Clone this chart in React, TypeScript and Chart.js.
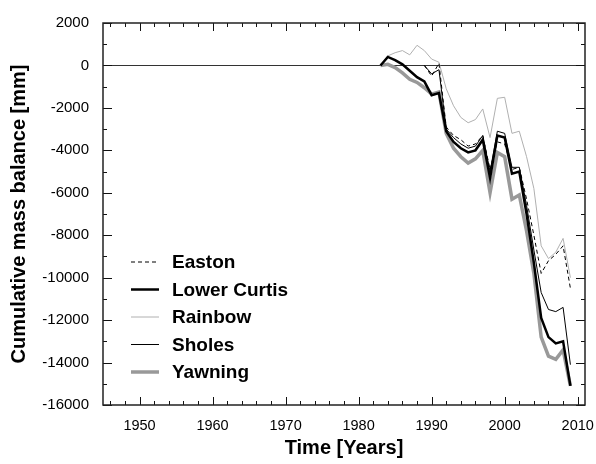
import { useEffect, useRef } from 'react';
import { Chart, registerables } from 'chart.js';

Chart.register(...registerables);

const years = [1983, 1984, 1985, 1986, 1987, 1988, 1989, 1990, 1991, 1992, 1993, 1994, 1995, 1996, 1997, 1998, 1999, 2000, 2001, 2002, 2003, 2004, 2005, 2006, 2007, 2008, 2009];

const easton = [null, null, null, null, null, null, 0, -500, 100, -2900, -3300, -3500, -3800, -3700, -3300, -4900, -3600, -3700, -4900, -4800, -6300, -8000, -9800, -9200, -8900, -8500, -10500];
const lowerCurtis = [0, 400, 250, 50, -250, -550, -750, -1400, -1300, -3100, -3600, -3900, -4100, -4000, -3500, -5300, -3300, -3400, -5100, -5000, -7000, -9300, -11900, -12800, -13100, -13000, -15100];
const rainbow = [0, 450, 600, 700, 500, 950, 700, 300, 150, -1100, -1900, -2450, -2700, -2550, -2050, -3400, -1550, -1500, -3200, -3100, -4300, -5800, -8500, -9100, -8800, -8150, -10000];
const sholes = [null, null, null, null, null, null, 0, -400, -200, -3000, -3400, -3700, -3900, -3800, -3300, -5000, -3100, -3200, -4800, -4800, -6600, -8700, -10700, -11500, -11600, -11400, -14100];
const yawning = [0, 50, -100, -350, -650, -800, -1050, -1350, -1250, -3200, -3900, -4300, -4600, -4400, -4000, -6000, -4100, -4300, -6300, -6100, -7800, -9800, -12800, -13700, -13850, -13400, -15100];

const xTickLabels = [1950, 1960, 1970, 1980, 1990, 2000, 2010];
const yTickLabels = [2000, 0, -2000, -4000, -6000, -8000, -10000, -12000, -14000, -16000];

const FONT = "'Liberation Sans', Arial, sans-serif";

function toPoints(values: (number | null)[]) {
  const pts: { x: number; y: number }[] = [];
  values.forEach((v, i) => {
    if (v !== null) pts.push({ x: years[i], y: v });
  });
  return pts;
}

const framePlugin = {
  id: 'frame',
  beforeDatasetsDraw(chart: any) {
    const { ctx, chartArea: a, scales } = chart;
    const ys = scales.y;
    ctx.save();
    ctx.strokeStyle = '#333';
    ctx.lineWidth = 1;
    const y0 = Math.round(ys.getPixelForValue(0)) + 0.5;
    ctx.beginPath();
    ctx.moveTo(a.left, y0);
    ctx.lineTo(a.right, y0);
    ctx.stroke();
    ctx.restore();
  },
  afterDraw(chart: any) {
    const { ctx, chartArea: a, scales } = chart;
    const xs = scales.x;
    const ys = scales.y;
    ctx.save();
    ctx.setLineDash([]);
    ctx.strokeStyle = '#111';
    ctx.lineWidth = 1;
    for (let yr = 1946; yr <= 2010; yr += 2) {
      const px = Math.round(xs.getPixelForValue(yr)) + 0.5;
      const len = yr % 10 === 0 ? 8 : 4;
      ctx.beginPath();
      ctx.moveTo(px, a.bottom);
      ctx.lineTo(px, a.bottom - len);
      ctx.moveTo(px, a.top);
      ctx.lineTo(px, a.top + len);
      ctx.stroke();
    }
    for (let v = -16000; v <= 2000; v += 1000) {
      const py = Math.round(ys.getPixelForValue(v)) + 0.5;
      const len = v % 2000 === 0 ? 9 : 4;
      ctx.beginPath();
      ctx.moveTo(a.left, py);
      ctx.lineTo(a.left + len, py);
      ctx.moveTo(a.right, py);
      ctx.lineTo(a.right - len, py);
      ctx.stroke();
    }
    ctx.strokeStyle = '#222';
    ctx.lineWidth = 1.5;
    ctx.beginPath();
    ctx.rect(a.left, a.top, a.right - a.left, a.bottom - a.top);
    ctx.stroke();

    // legend
    chart.data.datasets.forEach((ds: any, i: number) => {
      const y = 262 + i * 27.5;
      ctx.strokeStyle = ds.borderColor;
      ctx.lineWidth = ds.borderWidth;
      ctx.setLineDash(ds.borderDash || []);
      ctx.beginPath();
      ctx.moveTo(131, y);
      ctx.lineTo(159, y);
      ctx.stroke();
      ctx.setLineDash([]);
      ctx.fillStyle = '#000';
      ctx.font = `bold 19px ${FONT}`;
      ctx.textBaseline = 'middle';
      ctx.textAlign = 'left';
      ctx.fillText(ds.label, 172, y + 1);
    });
    ctx.restore();
  },
};

export default function App() {
  const ref = useRef<HTMLCanvasElement>(null);
  useEffect(() => {
    if (!ref.current) return;
    const chart = new Chart(ref.current, {
      type: 'line',
      data: {
        datasets: [
          { label: 'Easton', data: toPoints(easton), borderColor: '#000', borderWidth: 1, borderDash: [4, 3], order: 1 },
          { label: 'Lower Curtis', data: toPoints(lowerCurtis), borderColor: '#000', borderWidth: 2.5, order: 3 },
          { label: 'Rainbow', data: toPoints(rainbow), borderColor: '#b0b0b0', borderWidth: 1, order: 4 },
          { label: 'Sholes', data: toPoints(sholes), borderColor: '#000', borderWidth: 1, order: 2 },
          { label: 'Yawning', data: toPoints(yawning), borderColor: '#999999', borderWidth: 3.5, order: 5 },
        ] as any,
      },
      options: {
        animation: false,
        responsive: false,
        layout: { padding: { top: 20, right: 11, left: 0, bottom: 0 } },
        elements: { point: { radius: 0 }, line: { tension: 0 } },
        plugins: { legend: { display: false }, tooltip: { enabled: false } },
        scales: {
          x: {
            type: 'linear',
            min: 1945,
            max: 2011,
            grid: { display: false, drawTicks: false },
            border: { display: false },
            afterBuildTicks: (s: any) => { s.ticks = xTickLabels.map((v) => ({ value: v })); },
            afterFit: (s: any) => { s.height = 59; s.paddingLeft = 0; s.paddingRight = 0; },
            ticks: { color: '#000', font: { family: FONT, size: 14.5 }, padding: 12, maxRotation: 0, autoSkip: false, callback: (v: any) => String(v) },
            title: { display: true, text: 'Time [Years]', color: '#000', font: { family: FONT, size: 20, weight: 'bold' }, padding: { top: 0, bottom: 4 } },
          },
          y: {
            type: 'linear',
            min: -16000,
            max: 2000,
            grid: { display: false, drawTicks: false },
            border: { display: false },
            afterBuildTicks: (s: any) => { s.ticks = yTickLabels.map((v) => ({ value: v })); },
            afterFit: (s: any) => { s.width = 103; },
            ticks: { color: '#000', font: { family: FONT, size: 15 }, padding: 14, autoSkip: false, callback: (v: any) => String(v) },
            title: { display: true, text: 'Cumulative mass balance [mm]', color: '#000', font: { family: FONT, size: 20, weight: 'bold' }, padding: { top: 7, bottom: 0 } },
          },
        },
      } as any,
      plugins: [framePlugin],
    });
    return () => chart.destroy();
  }, []);
  return (
    <canvas
      ref={ref}
      width={596}
      height={464}
      style={{ position: 'fixed', left: 0, top: 0, width: 596, height: 464, background: '#fff' }}
    />
  );
}
